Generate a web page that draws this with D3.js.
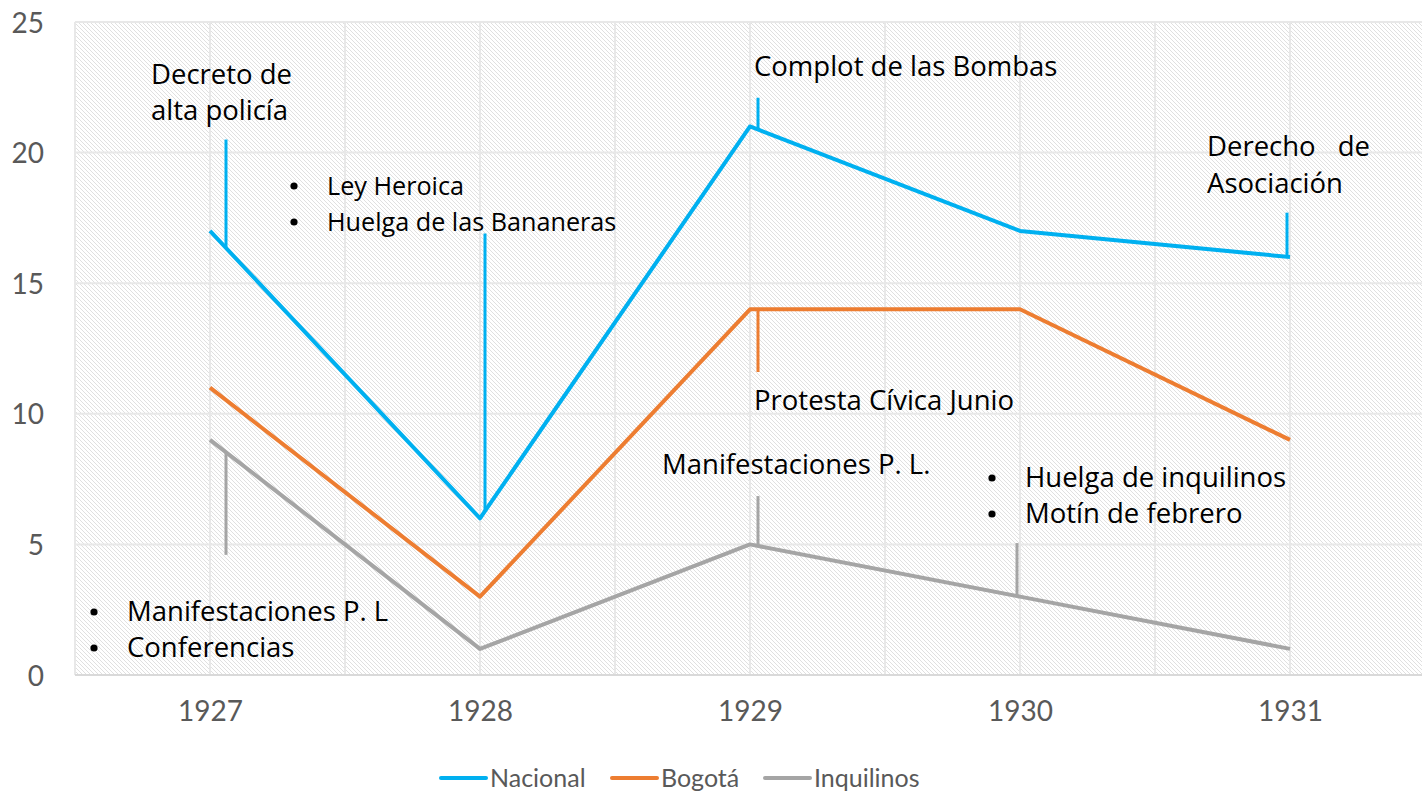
<!DOCTYPE html>
<html>
<head>
<meta charset="utf-8">
<script src="https://cdn.jsdelivr.net/npm/d3@7"></script>
<style>
  body { margin: 0; background: #fff; }
  svg { display: block; }
</style>
</head>
<body>
<script>
// chart data
const years = ["1927", "1928", "1929", "1930", "1931"];
const nacional = [17, 6, 21, 17, 16];
const bogota = [11, 3, 14, 14, 9];
const inquilinos = [9, 1, 5, 3, 1];
const yTicks = [0, 5, 10, 15, 20, 25];
const seriesNames = ["Nacional", "Bogotá", "Inquilinos"];
const seriesColors = ["#00B0F0", "#ED7D31", "#A5A5A5"];

// callout texts
const noteDecreto = ["Decreto de", "alta policía"];
const noteLey = ["Ley Heroica", "Huelga de las Bananeras"];
const noteComplot = ["Complot de las Bombas"];
const noteDerecho = ["Asociación"];
const noteProtesta = ["Protesta Cívica Junio"];
const noteManif = ["Manifestaciones P. L."];
const noteHuelga = ["Huelga de inquilinos", "Motín de febrero"];
const noteConf = ["Manifestaciones P. L", "Conferencias"];

const W = 1422, H = 800;
const pLeft = 75, pRight = 1425, pTop = 22, pBottom = 675;

const svg = d3.select("body").append("svg").attr("width", W).attr("height", H);

const x = d3.scalePoint().domain(years).range([pLeft, pRight]).padding(0.5);
const y = d3.scaleLinear().domain([0, 25]).range([pBottom, pTop]);
const step = x.step();

// hatch fill of plot area
const defs = svg.append("defs");
const pat = defs.append("pattern").attr("id", "hatch")
  .attr("patternUnits", "userSpaceOnUse").attr("width", 4).attr("height", 4);
pat.append("rect").attr("width", 4).attr("height", 4).attr("fill", "#fff");
pat.append("path").attr("d", "M-1,3 l2,2 M0,0 l4,4 M3,-1 l2,2")
  .attr("stroke", "#e0e0e0").attr("stroke-width", 1);

svg.append("rect").attr("x", pLeft).attr("y", pTop)
  .attr("width", pRight - pLeft).attr("height", pBottom - pTop)
  .attr("fill", "url(#hatch)");

// gridlines
const grid = svg.append("g").attr("stroke", "#e8e8e8").attr("stroke-width", 2);
yTicks.forEach(t => {
  grid.append("line").attr("x1", pLeft).attr("x2", pRight).attr("y1", y(t)).attr("y2", y(t));
});
years.forEach((yr, i) => {
  grid.append("line").attr("x1", x(yr)).attr("x2", x(yr)).attr("y1", pTop).attr("y2", pBottom);
  if (i > 0) {
    let xm = x(yr) - step / 2;
    grid.append("line").attr("x1", xm).attr("x2", xm).attr("y1", pTop).attr("y2", pBottom);
  }
});
grid.append("line").attr("x1", pLeft).attr("x2", pLeft).attr("y1", pTop).attr("y2", pBottom);

// axes
const yAxis = svg.append("g").attr("transform", `translate(${pLeft - 28},0)`)
  .call(d3.axisLeft(y).tickValues(yTicks).tickSize(0));
yAxis.select(".domain").remove();
yAxis.selectAll("text").attr("font-family", "Lato, sans-serif").attr("font-size", 28)
  .attr("fill", "#595959").attr("dy", "0.36em");

const xAxis = svg.append("g").attr("transform", `translate(0,${pBottom})`)
  .call(d3.axisBottom(x).tickSize(0));
xAxis.select(".domain").attr("stroke", "#d9d9d9").attr("stroke-width", 2)
  .attr("d", `M${pLeft},0H${pRight}`);
xAxis.selectAll("text").attr("font-family", "Lato, sans-serif").attr("font-size", 28)
  .attr("fill", "#595959").attr("dy", "1.55em");

// series lines
const allSeries = [nacional, bogota, inquilinos];
const line = d3.line().x((d, i) => x(years[i])).y(d => y(d));
allSeries.forEach((s, k) => {
  svg.append("path").datum(s).attr("d", line)
    .attr("fill", "none").attr("stroke", seriesColors[k])
    .attr("stroke-width", 4).attr("stroke-linejoin", "round");
});

// value of a series at a pixel offset from a year
function valueAt(s, i, dx) {
  let j = dx >= 0 ? Math.min(i + 1, s.length - 1) : Math.max(i - 1, 0);
  let t = Math.abs(dx) / step;
  return s[i] + (s[j] - s[i]) * t;
}

// callout connector lines: [series index, year index, pixel offset, other end value]
const callouts = [
  [0, 0, 16, 20.5],
  [0, 1, 5, 16.9],
  [0, 2, 8, 22.1],
  [0, 4, -3, 17.7],
  [1, 2, 8, 11.6],
  [2, 0, 16, 4.6],
  [2, 2, 8, 6.85],
  [2, 3, -3, 5.05]
];
callouts.forEach(c => {
  let s = allSeries[c[0]];
  let xp = x(years[c[1]]) + c[2];
  svg.append("line").attr("x1", xp).attr("x2", xp)
    .attr("y1", y(valueAt(s, c[1], c[2]))).attr("y2", y(c[3]))
    .attr("stroke", seriesColors[c[0]]).attr("stroke-width", 3);
});

// annotation texts
const notes = svg.append("g").attr("font-family", "'Open Sans', sans-serif")
  .attr("font-size", 27.5).attr("fill", "#000");

function block(lines, xp, y0, bullet, size) {
  lines.forEach((txt, i) => {
    let yy = y0 + i * 36;
    if (bullet) {
      notes.append("circle").attr("cx", xp - 33).attr("cy", yy - 9).attr("r", 3.6);
    }
    let t = notes.append("text").attr("x", xp).attr("y", yy).text(txt);
    if (size) t.attr("font-size", size);
  });
}

block(noteDecreto, 151, 84, false);
block(noteLey, 327, 195, true, 25.2);
block(noteComplot, 754, 76, false);
notes.append("text").attr("x", 1207).attr("y", 156).text("Derecho");
notes.append("text").attr("x", 1370).attr("y", 156).attr("text-anchor", "end").text("de");
block(noteDerecho, 1207, 193, false);
block(noteProtesta, 754, 410, false);
block(noteManif, 662, 474, false);
block(noteHuelga, 1025, 487, true);
block(noteConf, 127, 621, true);

// legend
const legendX = [441, 612, 765];
const legend = svg.append("g");
seriesNames.forEach((name, k) => {
  legend.append("line").attr("x1", legendX[k]).attr("x2", legendX[k] + 45)
    .attr("y1", 778).attr("y2", 778)
    .attr("stroke", seriesColors[k]).attr("stroke-width", 4).attr("stroke-linecap", "round");
  legend.append("text").attr("x", legendX[k] + 49).attr("y", 778).attr("dy", "0.35em")
    .attr("font-family", "Lato, sans-serif").attr("font-size", 25).attr("fill", "#595959")
    .text(name);
});
</script>
</body>
</html>
